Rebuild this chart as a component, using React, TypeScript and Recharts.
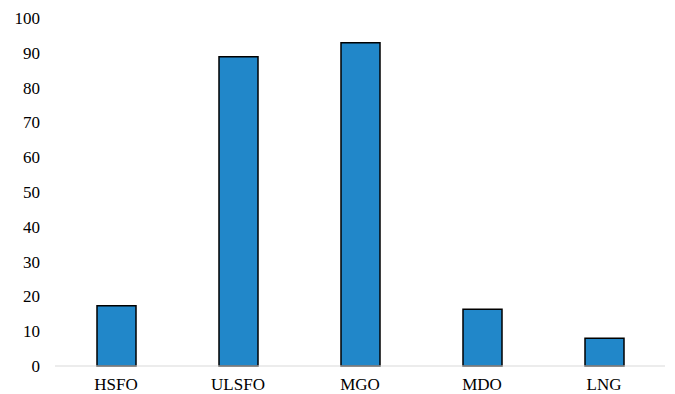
import { BarChart, Bar, XAxis, YAxis } from 'recharts';

const fuels = ['HSFO', 'ULSFO', 'MGO', 'MDO', 'LNG'];
const values = [17.3, 88.9, 92.9, 16.3, 8.0];
const yTicks = [0, 10, 20, 30, 40, 50, 60, 70, 80, 90, 100];

const data = fuels.map((name, i) => ({ name, value: values[i] }));

const tickStyle = { fontSize: 17, fill: '#000', fontFamily: '"Liberation Serif", "Times New Roman", serif' };

export default function App() {
  return (
    <div style={{ position: 'absolute', left: 0, top: 0 }}>
      <BarChart width={675} height={394} data={data} margin={{ top: 18, right: 10, bottom: 0, left: 0 }}>
        <XAxis
          dataKey="name"
          height={28}
          tickLine={false}
          tickSize={0}
          tickMargin={12}
          axisLine={{ stroke: '#d9d9d9', strokeWidth: 1 }}
          tick={tickStyle}
        />
        <YAxis
          width={55}
          domain={[0, 100]}
          ticks={yTicks}
          axisLine={false}
          tickLine={false}
          tickSize={0}
          tickMargin={15}
          tick={tickStyle}
          interval={0}
        />
        <Bar dataKey="value" fill="#2187c9" stroke="#000" strokeWidth={1.5} barSize={39} isAnimationActive={false} />
      </BarChart>
    </div>
  );
}
